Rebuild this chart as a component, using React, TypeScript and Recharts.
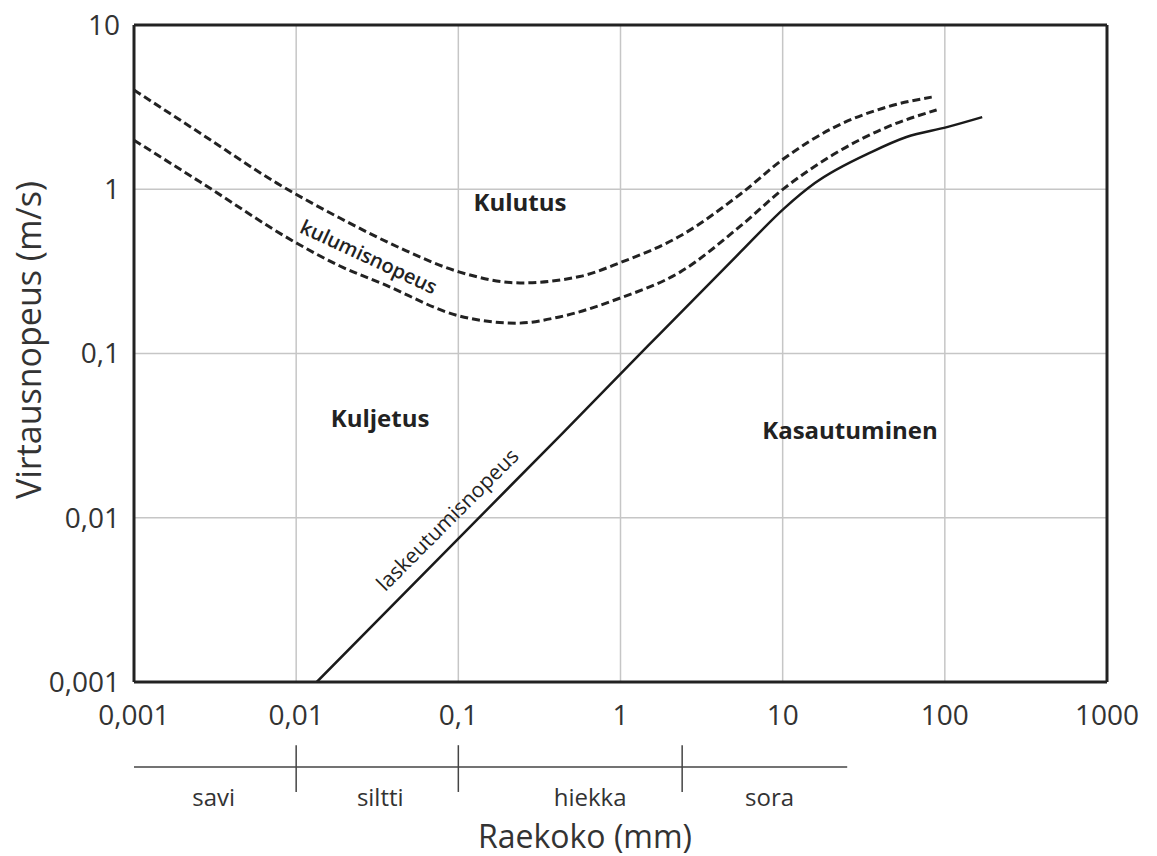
import { ComposedChart, Line, Scatter, XAxis, YAxis, CartesianGrid, ReferenceLine, Label } from 'recharts'

const xTicks = [0.001, 0.01, 0.1, 1, 10, 100, 1000]
const xTickLabels = ['0,001', '0,01', '0,1', '1', '10', '100', '1000']
const yTicks = [0.001, 0.01, 0.1, 1, 10]
const yTickLabels = ['0,001', '0,01', '0,1', '1', '10']

// kulumisnopeus, ylempi katkoviiva
const erosionUpperX = [0.001, 0.00255, 0.0076, 0.0186, 0.0437, 0.102, 0.24, 0.56, 1.0, 2.33, 5.5, 10.3, 20.4, 44, 83]
const erosionUpperY = [4.02, 2.2, 1.09, 0.668, 0.439, 0.313, 0.269, 0.294, 0.358, 0.519, 0.936, 1.55, 2.36, 3.17, 3.64]

// kulumisnopeus, alempi katkoviiva
const erosionLowerX = [0.001, 0.00255, 0.0103, 0.0186, 0.0343, 0.102, 0.23, 0.42, 1.0, 2.33, 5.5, 10.3, 20.4, 44, 89]
const erosionLowerY = [1.99, 1.11, 0.464, 0.341, 0.265, 0.169, 0.153, 0.167, 0.218, 0.313, 0.598, 1.02, 1.62, 2.39, 3.04]

// laskeutumisnopeus
const settlingX = [0.0134, 0.44, 1.46, 5.5, 10.3, 15.8, 35.5, 58, 103, 170]
const settlingY = [0.001, 0.0328, 0.11, 0.415, 0.77, 1.09, 1.69, 2.08, 2.39, 2.75]

const areaLabels = ['Kulutus', 'Kuljetus', 'Kasautuminen', 'kulumisnopeus', 'laskeutumisnopeus']
const areaLabelX = [0.24, 0.0329, 26, 0.0281, 0.0851]
const areaLabelY = [0.84, 0.0405, 0.0347, 0.39, 0.0098]

const soilClasses = ['savi', 'siltti', 'hiekka', 'sora']
const soilLabelX = [0.0031, 0.033, 0.65, 8.3]
const soilBoundaries = [0.01, 0.1, 2.4]
const soilScaleEnd = 25

const FONT = '"Open Sans", "DejaVu Sans", sans-serif'
const INK = '#222'

const labelStyles = [
  { size: 24, weight: 700, angle: 0 },
  { size: 24, weight: 700, angle: 0 },
  { size: 24, weight: 700, angle: 0 },
  { size: 20, weight: 600, angle: 25 },
  { size: 21, weight: 400, angle: -45 },
]

const toPoints = (xs: number[], ys: number[]) => xs.map((x, i) => ({ x, y: ys[i] }))

function AreaText(props: any) {
  const { cx, cy, payload } = props
  const s = labelStyles[payload.i]
  return (
    <text
      x={cx}
      y={cy}
      textAnchor="middle"
      dominantBaseline="central"
      transform={s.angle ? `rotate(${s.angle} ${cx} ${cy})` : undefined}
      fontFamily={FONT}
      fontSize={s.size}
      fontWeight={s.weight}
      fill={INK}
    >
      {payload.label}
    </text>
  )
}

function SoilText(props: any) {
  const { cx, cy, payload } = props
  return (
    <text x={cx} y={cy} textAnchor="middle" fontFamily={FONT} fontSize={24} fill="#333">
      {payload.label}
    </text>
  )
}

export default function App() {
  const upper = toPoints(erosionUpperX, erosionUpperY)
  const lower = toPoints(erosionLowerX, erosionLowerY)
  const settling = toPoints(settlingX, settlingY)
  const areaData = areaLabels.map((label, i) => ({ x: areaLabelX[i], y: areaLabelY[i], label, i }))
  const soilData = soilClasses.map((label, i) => ({ x: soilLabelX[i], y: 0.165, label }))

  const tickStyle = { fontFamily: FONT, fontSize: 28, fill: '#333' }

  return (
    <div style={{ position: 'absolute', left: 0, top: 0, width: 1157, height: 856, background: '#fff' }}>
      <div style={{ position: 'absolute', left: 0, top: 0 }}>
        <ComposedChart width={1157} height={856} margin={{ top: 25, right: 50, bottom: 0, left: 0 }}>
          <CartesianGrid stroke="#c6c6c6" strokeWidth={1.5} />
          <XAxis
            dataKey="x"
            type="number"
            scale="log"
            domain={[0.001, 1000]}
            ticks={xTicks}
            tickFormatter={(v: number) => xTickLabels[xTicks.indexOf(v)] ?? String(v)}
            height={174}
            tickSize={0}
            tickMargin={23}
            tick={tickStyle}
            axisLine={{ stroke: INK, strokeWidth: 3 }}
            allowDataOverflow
          >
            <Label
              content={() => (
                <text x={585} y={835} textAnchor="middle" dominantBaseline="central" fontFamily={FONT} fontSize={32} fill="#333">
                  Raekoko (mm)
                </text>
              )}
            />
          </XAxis>
          <YAxis
            dataKey="y"
            type="number"
            scale="log"
            domain={[0.001, 10]}
            ticks={yTicks}
            tickFormatter={(v: number) => yTickLabels[yTicks.indexOf(v)] ?? String(v)}
            width={134}
            tickSize={0}
            tickMargin={14}
            tick={tickStyle}
            axisLine={{ stroke: INK, strokeWidth: 3 }}
            allowDataOverflow
          >
            <Label
              content={() => (
                <text
                  x={28}
                  y={340}
                  transform="rotate(-90 28 340)"
                  textAnchor="middle"
                  dominantBaseline="central"
                  fontFamily={FONT}
                  fontSize={34}
                  fill="#333"
                >
                  Virtausnopeus (m/s)
                </text>
              )}
            />
          </YAxis>
          <ReferenceLine y={10} stroke={INK} strokeWidth={3} />
          <ReferenceLine x={1000} stroke={INK} strokeWidth={3} />
          <Line data={upper} dataKey="y" type="monotone" stroke={INK} strokeWidth={3} strokeDasharray="8 4" dot={false} isAnimationActive={false} />
          <Line data={lower} dataKey="y" type="monotone" stroke={INK} strokeWidth={3} strokeDasharray="8 4" dot={false} isAnimationActive={false} />
          <Line data={settling} dataKey="y" type="monotone" stroke="#1a1a1a" strokeWidth={2.5} dot={false} isAnimationActive={false} />
          <Scatter data={areaData} shape={AreaText} isAnimationActive={false} />
        </ComposedChart>
      </div>
      <div style={{ position: 'absolute', left: 0, top: 735 }}>
        <ComposedChart width={1157} height={85} margin={{ top: 0, right: 50, bottom: 0, left: 134 }}>
          <XAxis dataKey="x" type="number" scale="log" domain={[0.001, 1000]} hide allowDataOverflow />
          <YAxis dataKey="y" type="number" domain={[0, 1]} hide />
          <ReferenceLine
            segment={[{ x: 0.001, y: 0.624 }, { x: soilScaleEnd, y: 0.624 }]}
            stroke="#444"
            strokeWidth={1.5}
          />
          {soilBoundaries.map(b => (
            <ReferenceLine key={b} segment={[{ x: b, y: 0.33 }, { x: b, y: 0.88 }]} stroke="#444" strokeWidth={1.5} />
          ))}
          <Scatter data={soilData} shape={SoilText} isAnimationActive={false} />
        </ComposedChart>
      </div>
    </div>
  )
}
